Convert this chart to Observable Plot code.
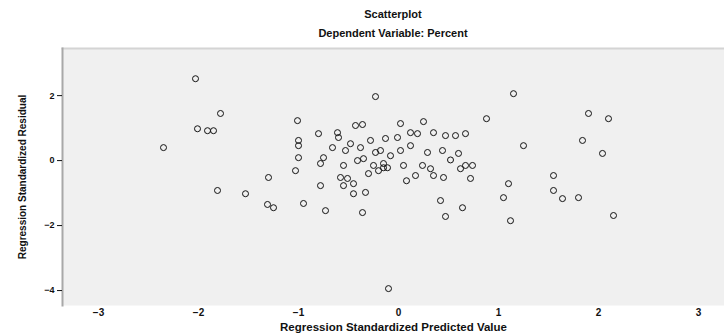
<!DOCTYPE html>
<html>
<head>
<meta charset="utf-8">
<script src="https://cdn.jsdelivr.net/npm/d3@7"></script>
<script src="https://cdn.jsdelivr.net/npm/@observablehq/plot@0.6"></script>
<style>
  body { margin: 0; background: #fff; font-family: "Liberation Sans", Arial, sans-serif; }
  #wrap { width: 724px; height: 336px; position: relative; }
  .hdr { margin-left: 62px; text-align: center; font-weight: bold; color: #111; }
  #t1 { font-size: 11px; height: 22px; line-height: 28px; }
  #t2 { font-size: 11px; height: 24px; line-height: 22px; }
  svg { display: block; }
</style>
</head>
<body>
<div id="wrap">
  <div class="hdr" id="t1"></div>
  <div class="hdr" id="t2"></div>
  <div id="chart"></div>
</div>
<script>
const title = "Scatterplot";
const subtitle = "Dependent Variable: Percent";
const xLabel = "Regression Standardized Predicted Value";
const yLabel = "Regression Standardized Residual";
const xTicks = [-3, -2, -1, 0, 1, 2, 3];
const yTicks = [2, 0, -2, -4];

const predicted = [
  -2.03, -0.23, -1.78, -1.01, -0.36, -2.01, -1.91, -1.85, -2.35, -0.80,
  -0.61, -0.60, -1.00, -1.00, -0.48, -0.38, -0.53, -0.23, -0.18, -1.00,
  -0.75, -0.78, -0.55, -0.41, -0.35, -0.25, -0.20, -0.15, -1.03, -1.30,
  -0.58, -0.51, -0.78, -0.55, -0.45, -1.81, -1.53, -0.45, -0.33, -1.31,
  -1.25, -0.95, -0.73, -0.36, 1.15, 1.90, 2.10, 0.88, 0.02, 0.25,
  -0.13, -0.01, 0.12, 0.19, 0.35, 0.47, 0.57, 0.67, 1.25, 1.84,
  2.04, 0.02, 0.29, 0.44, 0.60, -0.15, -0.11, 0.05, 0.24, 0.32,
  0.35, 0.45, 0.62, 0.67, 0.74, 0.72, 1.55, 1.10, 1.05, 1.55,
  1.64, 1.80, 0.42, 0.64, 0.47, 1.12, 2.15, -0.10, -0.08, -0.43,
  0.12, -0.28, 0.17, -0.66, 0.08, 0.52, -0.30
];
const residual = [
  2.52, 1.97, 1.45, 1.23, 1.11, 0.98, 0.92, 0.92, 0.40, 0.83,
  0.86, 0.71, 0.62, 0.46, 0.52, 0.40, 0.31, 0.25, 0.31, 0.09,
  0.09, -0.09, -0.15, 0.00, 0.06, -0.15, -0.31, -0.22, -0.31, -0.52,
  -0.52, -0.55, -0.77, -0.77, -0.71, -0.92, -1.02, -1.02, -0.98, -1.35,
  -1.45, -1.32, -1.54, -1.60, 2.06, 1.45, 1.29, 1.29, 1.14, 1.20,
  0.68, 0.71, 0.86, 0.83, 0.86, 0.77, 0.77, 0.83, 0.46, 0.62,
  0.22, 0.31, 0.25, 0.31, 0.22, -0.09, -0.22, -0.15, -0.15, -0.25,
  -0.46, -0.52, -0.25, -0.15, -0.15, -0.55, -0.46, -0.71, -1.14, -0.92,
  -1.17, -1.14, -1.23, -1.45, -1.72, -1.85, -1.69, -3.94, 0.15, 1.08,
  0.46, 0.62, -0.46, 0.40, -0.62, 0.02, -0.40
];

const points = predicted.map((p, i) => ({x: p, y: residual[i]}));

document.getElementById("t1").textContent = title;
document.getElementById("t2").textContent = subtitle;

const chart = Plot.plot({
  width: 724,
  height: 290,
  marginLeft: 62,
  marginRight: 0,
  marginTop: 2,
  marginBottom: 31,
  style: {background: "#fff", fontFamily: "Liberation Sans, Arial, sans-serif", color: "#111"},
  x: {domain: [-3.36, 3.26], ticks: xTicks},
  y: {domain: [-4.46, 3.45], ticks: yTicks},
  marks: [
    Plot.frame({fill: "#f0f0f0", stroke: null}),
    Plot.frame({anchor: "top", stroke: "#d4d4d4", strokeWidth: 2}),
    Plot.frame({anchor: "left", stroke: "#a8a8a8", strokeWidth: 2}),
    Plot.axisX({ticks: xTicks, tickFormat: "d", tickSize: 0, tickPadding: 3, fontSize: 10, fontWeight: "bold",
      label: xLabel, labelAnchor: "center", labelOffset: 25, labelArrow: "none"}),
    Plot.axisY({ticks: yTicks, tickFormat: "d", tickSize: 5, tickPadding: 3, fontSize: 9, fontWeight: "bold",
      label: yLabel, labelAnchor: "center", labelOffset: 44, labelArrow: "none"}),
    Plot.dot(points, {x: "x", y: "y", r: 3, stroke: "#111", strokeWidth: 1, fill: "none"})
  ]
});
chart.querySelectorAll('[aria-label="x-axis label"] text').forEach(t => { t.style.fontSize = "11.5px"; t.style.fontWeight = "bold"; });
chart.querySelectorAll('[aria-label="y-axis label"] text').forEach(t => { t.style.fontSize = "10px"; t.style.fontWeight = "bold"; });
document.getElementById("chart").appendChild(chart);
</script>
</body>
</html>
